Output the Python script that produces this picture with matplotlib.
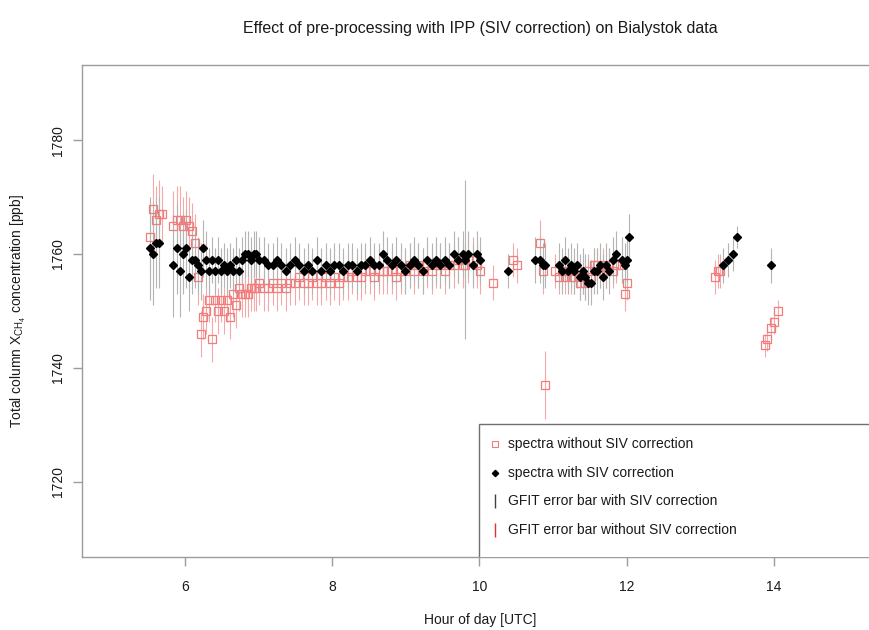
import numpy as np
import matplotlib.pyplot as plt
from matplotlib.patches import Rectangle

plt.rcParams['font.family'] = ['Liberation Sans', 'DejaVu Sans']
plt.rcParams['mathtext.fontset'] = 'custom'
plt.rcParams['mathtext.rm'] = 'Liberation Sans'
plt.rcParams['mathtext.it'] = 'Liberation Sans:italic'

nan = np.nan

# --- data: hour of day, XCH4 with / without SIV correction and GFIT errors ---
hour = [5.53, 5.57, 5.61, 5.65, 5.69,
        5.84, 5.89, 5.93, 5.97, 6.01, 6.05, 6.09, 6.13, 6.17, 6.21,
        6.25, 6.29, 6.33, 6.37, 6.41, 6.45, 6.49, 6.53, 6.57, 6.61,
        6.65, 6.69, 6.73, 6.77, 6.81, 6.85, 6.89, 6.93, 6.97, 7.01,
        7.07, 7.13, 7.19, 7.25, 7.31, 7.37, 7.43, 7.49, 7.55, 7.61,
        7.67, 7.73, 7.79, 7.85, 7.91, 7.97, 8.03, 8.09, 8.15, 8.21,
        8.27, 8.33, 8.39, 8.45, 8.51, 8.57, 8.63, 8.69, 8.75, 8.81,
        8.87, 8.93, 8.99, 9.05, 9.11, 9.17, 9.23, 9.29, 9.35, 9.41,
        9.47, 9.53, 9.59, 9.65, 9.71, 9.77, 9.80, 9.85, 9.91, 9.97,
        10.01,
        10.18, 10.39, 10.45, 10.51, 10.76, 10.82, 10.86, 10.89,
        11.03, 11.08, 11.12, 11.16, 11.20, 11.24, 11.28, 11.32, 11.36,
        11.40, 11.44, 11.48, 11.52, 11.56, 11.60, 11.64, 11.68, 11.72,
        11.76, 11.81, 11.86, 11.93, 11.97, 12.00, 12.03,
        13.20, 13.24, 13.27, 13.31, 13.37, 13.44, 13.50,
        13.88, 13.90, 13.96, 14.00, 14.05]

xch4_siv = [1761, 1760, 1762, 1762, nan,
            1758, 1761, 1757, 1760, 1761, 1756, 1759, 1759, 1758, 1757,
            1761, 1759, 1757, 1759, 1757, 1759, 1757, 1758, 1757, 1758,
            1757, 1759, 1757, 1759, 1760, 1760, 1759, 1760, 1760, 1759,
            1759, 1758, 1758, 1759, 1758, 1757, 1758, 1759, 1758, 1757,
            1758, 1757, 1759, 1757, 1758, 1757, 1758, 1758, 1757, 1758,
            1758, 1757, 1758, 1758, 1759, 1758, 1758, 1760, 1759, 1758,
            1759, 1758, 1757, 1758, 1759, 1758, 1757, 1759, 1758, 1759,
            1758, 1759, 1758, 1760, 1759, 1760, 1759, 1760, 1758, 1760,
            1759,
            nan, 1757, nan, nan, 1759, 1759, 1758, 1758,
            nan, 1758, 1757, 1759, 1757, 1758, 1757, 1758, 1756,
            1757, 1756, 1755, 1755, 1757, 1757, 1758, 1756, 1758,
            1757, 1759, 1760, 1759, 1758, 1759, 1763,
            nan, nan, nan, 1758, 1759, 1760, 1763,
            nan, nan, 1758, nan, nan]

xch4_raw = [1763, 1768, 1766, 1767, 1767,
            1765, 1766, 1766, 1765, 1766, 1765, 1764, 1762, 1756, 1746,
            1749, 1750, 1752, 1745, 1752, 1750, 1752, 1750, 1752, 1749,
            1753, 1751, 1754, 1753, 1753, 1753, 1754, 1754, 1754, 1755,
            1754, 1754, 1755, 1754, 1755, 1754, 1755, 1755, 1756, 1755,
            1755, 1756, 1755, 1755, 1756, 1755, 1756, 1755, 1756, 1756,
            1757, 1756, 1756, 1757, 1757, 1756, 1757, 1757, 1757, 1757,
            1756, 1757, 1757, 1758, 1757, 1758, 1757, 1758, 1757, 1758,
            1758, 1757, 1758, 1758, 1759, 1758, 1758, 1759, 1759, 1758,
            1757,
            1755, nan, 1759, 1758, nan, 1762, 1757, 1737,
            1757, 1756, 1757, 1756, 1757, 1756, 1756, 1757, 1755,
            1756, 1755, 1757, 1756, 1758, 1758, 1757, 1758, 1757,
            1758, 1757, 1758, 1758, 1753, 1755, nan,
            1756, 1757, 1757, nan, nan, nan, nan,
            1744, 1745, 1747, 1748, 1750]

err_siv = [9, 9, 8, 8, nan,
           9, 8, 8, 7, 7, 6, 6, 5, 5, 5,
           5, 5, 4, 4, 4, 4, 4, 4, 4, 4,
           4, 4, 4, 4, 4, 4, 4, 4, 4, 4,
           4, 4, 4, 4, 4, 4, 4, 4, 4, 4,
           4, 4, 4, 4, 4, 4, 4, 4, 4, 4,
           4, 4, 4, 4, 4, 4, 4, 4, 4, 4,
           4, 4, 4, 4, 4, 4, 4, 4, 4, 4,
           4, 4, 4, 4, 4, 4, 14, 4, 4, 4,
           4,
           nan, 3, nan, nan, 4, 4, 4, 4,
           nan, 4, 4, 4, 4, 4, 4, 4, 4,
           4, 4, 4, 4, 4, 4, 4, 4, 4,
           4, 4, 4, 4, 4, 4, 4,
           nan, nan, nan, 3, 3, 3, 2,
           nan, nan, 3, nan, nan]

err_raw = [6, 6, 6, 6, 5,
           6, 6, 6, 5, 5, 5, 5, 5, 5, 4,
           4, 4, 4, 4, 4, 4, 4, 4, 4, 4,
           4, 4, 4, 4, 4, 4, 4, 4, 4, 4,
           4, 4, 4, 4, 4, 4, 4, 4, 4, 4,
           4, 4, 4, 4, 4, 4, 4, 4, 4, 4,
           4, 4, 4, 4, 4, 4, 4, 4, 4, 4,
           4, 4, 4, 4, 4, 4, 4, 4, 4, 4,
           4, 4, 4, 4, 4, 4, 4, 4, 4, 4,
           4,
           3, nan, 3, 3, nan, 4, 4, 6,
           3, 3, 3, 3, 3, 3, 3, 3, 3,
           3, 3, 3, 3, 3, 3, 3, 3, 3,
           3, 3, 3, 3, 3, 3, nan,
           3, 3, 3, nan, nan, nan, nan,
           2, 2, 2, 2, 2]

xticks = [6, 8, 10, 12, 14]
yticks = [1720, 1740, 1760, 1780]

legend_labels = ['spectra without SIV correction',
                 'spectra with SIV correction',
                 'GFIT error bar with SIV correction',
                 'GFIT error bar without SIV correction']

RED = '#f07c7c'
RED_BAR = '#f6a8a8'
GREY_BAR = '#b4b4b4'
FRAME = '#9c9c9c'

fig = plt.figure(figsize=(8.69, 6.3), dpi=100)
# plot region runs a bit past the right edge of the image
ax = fig.add_axes([82 / 869, 73 / 630, 795 / 869, 492 / 630])

# error bars first so the symbols sit on top
ax.errorbar(hour, xch4_raw, yerr=err_raw, fmt='none', ecolor=RED_BAR,
            elinewidth=0.8, capsize=0)
ax.errorbar(hour, xch4_siv, yerr=err_siv, fmt='none', ecolor=GREY_BAR,
            elinewidth=0.8, capsize=0)
ax.plot(hour, xch4_raw, ls='none', marker='s', ms=6.4, mfc='none',
        mec=RED, mew=0.9)
ax.plot(hour, xch4_siv, ls='none', marker='D', ms=3.6, color='black')

ax.set_xlim(4.6, 15.4)
ax.set_ylim(1706.8, 1793.2)
ax.set_xticks(xticks)
ax.set_yticks(yticks)
for s in ax.spines.values():
    s.set_color(FRAME)
    s.set_linewidth(1.0)
ax.tick_params(axis='both', colors=FRAME, labelcolor='#1a1a1a',
               length=6.5, width=1.0, labelsize=10)
ax.tick_params(axis='x', pad=10)
ax.tick_params(axis='y', pad=6)
for lbl in ax.get_yticklabels():
    lbl.set_rotation(90)
    lbl.set_va('center')

# legend box, clipped by the plot region
box = Rectangle((10.0, 1700), 10, 30.1, facecolor='white', edgecolor='#707070',
                linewidth=1.0, zorder=5, clip_on=True)
ax.add_patch(box)
leg_y = [1726.6, 1721.5, 1716.6, 1711.6]
ax.plot(10.21, leg_y[0], marker='s', ms=5, mfc='none', mec=RED, mew=0.8,
        zorder=6)
ax.plot(10.21, leg_y[1], marker='D', ms=3.2, color='black', zorder=6)
ax.plot(10.21, leg_y[2], marker='|', ms=10, mew=1.0, color='#404040', zorder=6)
ax.plot(10.21, leg_y[3], marker='|', ms=10, mew=1.0, color='#e03030', zorder=6)
for yy, txt in zip(leg_y, legend_labels):
    ax.text(10.39, yy, txt, fontsize=10, va='center', ha='left', zorder=6,
            color='#1a1a1a')

fig.text(480 / 869, 1 - 28 / 630,
         'Effect of pre-processing with IPP (SIV correction) on Bialystok data',
         ha='center', va='center', fontsize=11.5, color='#1a1a1a')
fig.text(480 / 869, 1 - 620 / 630, 'Hour of day [UTC]', ha='center',
         va='center', fontsize=10, color='#1a1a1a')
fig.text(18 / 869, 1 - 311 / 630,
         r'Total column X$_{\mathregular{CH_4}}$ concentration [ppb]',
         ha='center', va='center', rotation=90, fontsize=10, color='#1a1a1a')

fig.savefig('out.png', dpi=100)
